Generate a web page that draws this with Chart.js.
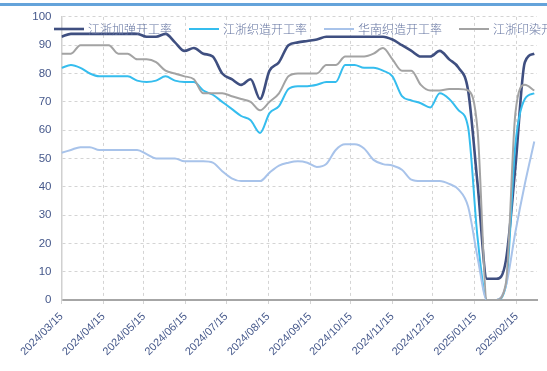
<!DOCTYPE html>
<html>
<head>
<meta charset="utf-8">
<script src="https://cdn.jsdelivr.net/npm/chart.js@4"></script>
<style>
  html, body { margin: 0; padding: 0; background: #ffffff; overflow: hidden; }
  #wrap { position: relative; width: 547px; height: 371px; }
  #topbar { position: absolute; left: 0; top: 3px; width: 547px; height: 3px; background: #64a3da; }
  canvas { position: absolute; left: 0; top: 0; }
</style>
</head>
<body>
<div id="wrap">
  <canvas id="c" width="547" height="371"></canvas>
  <div id="topbar"></div>
</div>
<script>
// Weekly observation dates
const dates = [
  '2024/03/15','2024/03/22','2024/03/29','2024/04/05','2024/04/12','2024/04/19','2024/04/26',
  '2024/05/03','2024/05/10','2024/05/17','2024/05/24','2024/05/31','2024/06/07','2024/06/14',
  '2024/06/21','2024/06/28','2024/07/05','2024/07/12','2024/07/19','2024/07/26','2024/08/02',
  '2024/08/09','2024/08/16','2024/08/23','2024/08/30','2024/09/06','2024/09/13','2024/09/20',
  '2024/09/27','2024/10/04','2024/10/11','2024/10/18','2024/10/25','2024/11/01','2024/11/08',
  '2024/11/15','2024/11/22','2024/11/29','2024/12/06','2024/12/13','2024/12/20','2024/12/27',
  '2025/01/03','2025/01/10','2025/01/17','2025/01/24','2025/01/31','2025/02/07','2025/02/14',
  '2025/02/21','2025/02/28'
];

// X-axis tick labels
const tickLabels = [
  '2024/03/15','2024/04/15','2024/05/15','2024/06/15','2024/07/15','2024/08/15',
  '2024/09/15','2024/10/15','2024/11/15','2024/12/15','2025/01/15','2025/02/15'
];

const seriesNames = ['江浙加弹开工率', '江浙织造开工率', '华南织造开工率', '江浙印染开工率'];

// 江浙加弹开工率
const jzJiatan = [93,94,94,94,94,94,94,94,94,93,93,94,91,88,89,87,86,80,78,76,78,71,81,84,90,91,91.5,92,93,93,93,93,93,93,93,92,90,88,86,86,88,85,82,74,41,7.5,7.5,14,47,84,87];
// 江浙织造开工率
const jzZhizao = [82,83,82,80,79,79,79,79,77.5,77,77.5,79,77.5,77,77,74,72.5,70,67.5,65,63.5,59,66,68.5,74.5,75.5,75.5,76,77,77,83,83,82,82,81,79,72,70.5,69.5,68,73,71,67,61,22,0,0,5,55,71,73];
// 华南织造开工率
const hnZhizao = [52,53,54,54,53,53,53,53,53,51.5,50,50,50,49,49,49,48.5,45.5,43,42,42,42,45,47.5,48.5,49,48.5,47,48,53,55,55,53.5,49.5,48,47.5,46,42.5,42,42,42,41,39,33,15,0,0,5,24,41,56];
// 江浙印染开工率
const jzYinran = [87,87,90,90,90,90,87,87,85,85,84,81,80,79,78,73,73,73,72,71,70,67,70,73,79,80,80,80,83,83,86,86,86,87,89,85,81,81,76,74,74,74.5,74.5,74,60,0,0,6,66,76,74];

const yTickValues = [0,10,20,30,40,50,60,70,80,90,100];

function dayNum(s) {
  const p = s.split('/').map(Number);
  return Date.UTC(p[0], p[1] - 1, p[2]) / 86400000;
}
const base = dayNum(dates[0]);
const xs = dates.map(d => dayNum(d) - base);
const pts = arr => arr.map((v, i) => ({ x: xs[i], y: v }));

const colors = ['#3f4f80', '#35bdee', '#a8c3ea', '#a3a3a3'];
const widths = [2.6, 2, 2, 2];
const seriesData = [jzJiatan, jzZhizao, hnZhizao, jzYinran];

const datasets = seriesData.map((arr, k) => ({
  label: seriesNames[k],
  data: pts(arr),
  borderColor: colors[k],
  backgroundColor: colors[k],
  borderWidth: widths[k],
  pointRadius: 0,
  cubicInterpolationMode: 'monotone',
  fill: false,
  order: 4 - k
}));

const legendPlugin = {
  id: 'customLegend',
  afterDatasetsDraw(chart) {
    const ctx = chart.ctx;
    ctx.save();
    ctx.font = '300 12px "Noto Sans CJK SC"';
    ctx.textBaseline = 'middle';
    ctx.textAlign = 'left';
    let x = 54;
    const y = 29;
    chart.data.datasets.forEach(ds => {
      ctx.strokeStyle = ds.borderColor;
      ctx.lineWidth = ds.borderWidth;
      ctx.setLineDash([]);
      ctx.beginPath();
      ctx.moveTo(x, y);
      ctx.lineTo(x + 30, y);
      ctx.stroke();
      ctx.fillStyle = '#6373a0';
      ctx.fillText(ds.label, x + 34, y);
      x += 34 + ctx.measureText(ds.label).width + 17;
    });
    ctx.restore();
  }
};

new Chart(document.getElementById('c'), {
  type: 'line',
  data: { datasets },
  plugins: [legendPlugin],
  options: {
    responsive: false,
    animation: false,
    layout: { padding: { top: 16, right: 10, left: 0, bottom: 0 } },
    plugins: { legend: { display: false }, tooltip: { enabled: false } },
    scales: {
      x: {
        type: 'linear',
        min: 0,
        max: 352,
        afterBuildTicks(scale) {
          scale.ticks = tickLabels.map(t => ({ value: dayNum(t) - base }));
        },
        afterFit(scale) { scale.height = 71; },
        ticks: {
          autoSkip: false,
          maxRotation: 45,
          minRotation: 45,
          padding: 6,
          color: '#44578a',
          font: { family: '"Liberation Sans", Arial, sans-serif', size: 11 },
          callback: (v, i) => tickLabels[i]
        },
        grid: { color: '#d4d4d4', lineWidth: 1, drawTicks: true, tickLength: 4 },
        border: { display: true, color: '#a6a6a6', width: 2, dash: [3, 3] }
      },
      y: {
        min: 0,
        max: 100,
        afterBuildTicks(scale) {
          scale.ticks = yTickValues.map(v => ({ value: v }));
        },
        afterFit(scale) { scale.width = 61.5; },
        ticks: {
          padding: 10,
          color: '#44578a',
          font: { family: '"Liberation Sans", Arial, sans-serif', size: 11.5 }
        },
        grid: { color: '#d4d4d4', lineWidth: 1, drawTicks: false },
        border: { display: true, color: '#d0d0d0', width: 1.5, dash: [3, 3] }
      }
    }
  }
});
</script>
</body>
</html>
